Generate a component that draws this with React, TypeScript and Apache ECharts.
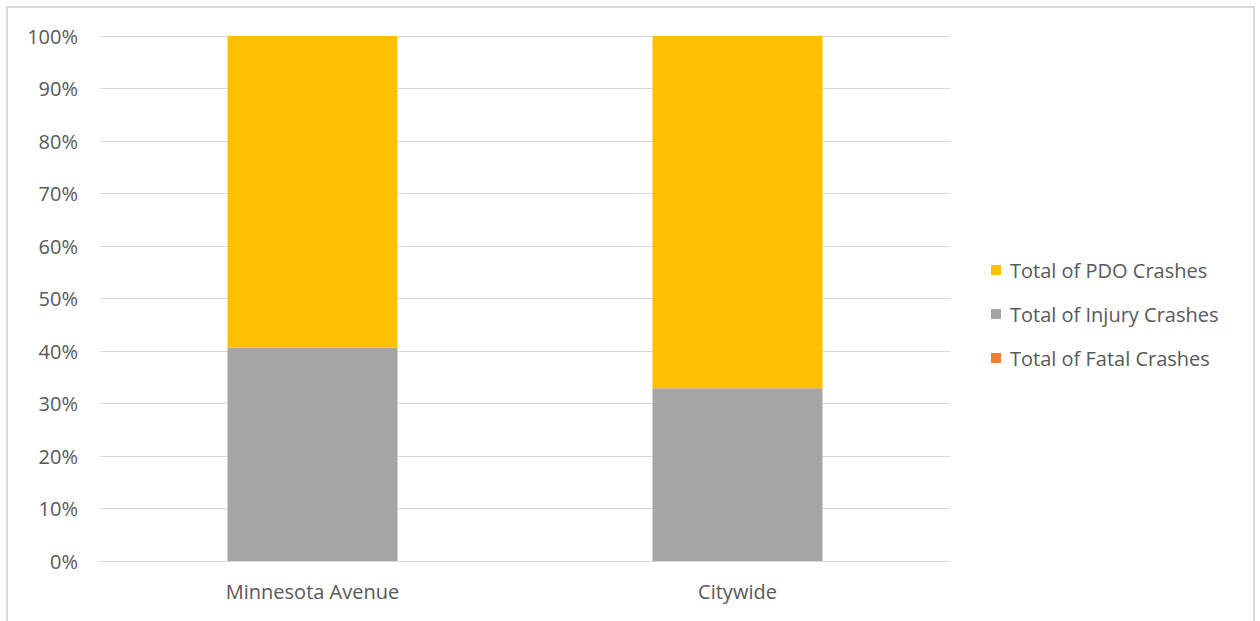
import React, { useEffect, useRef } from "react";
import * as echarts from "echarts";

const categories = ["Minnesota Avenue", "Citywide"];
const fatalPct = [0, 0];
const injuryPct = [40.6, 32.9];
const pdoPct = [59.4, 67.1];
const seriesNames = ["Total of Fatal Crashes", "Total of Injury Crashes", "Total of PDO Crashes"];
const legendOrder = ["Total of PDO Crashes", "Total of Injury Crashes", "Total of Fatal Crashes"];
const colors = ["#ED7D31", "#A5A5A5", "#FFC000"];

export default function App() {
  const ref = useRef<HTMLDivElement>(null);
  useEffect(() => {
    const chart = echarts.init(ref.current!, null, { renderer: "svg" });
    const font = "'Open Sans', 'Liberation Sans', sans-serif";
    const dataSets = [fatalPct, injuryPct, pdoPct];
    chart.setOption({
      animation: false,
      backgroundColor: "#ffffff",
      textStyle: { fontFamily: font },
      graphic: [
        {
          type: "rect",
          shape: { x: 7, y: 7, width: 1247, height: 700 },
          style: { fill: "none", stroke: "#d9d9d9", lineWidth: 2 },
          silent: true,
        },
      ],
      grid: { left: 100, right: 310, top: 36, bottom: 60, containLabel: false },
      legend: {
        orient: "vertical",
        left: 986,
        top: 255,
        itemWidth: 10,
        itemHeight: 10,
        itemGap: 24,
        icon: "rect",
        data: legendOrder,
        textStyle: { fontSize: 20, color: "#595959", fontFamily: font, padding: [0, 0, 0, 4] },
      },
      xAxis: {
        type: "category",
        data: categories,
        axisLine: { show: true, lineStyle: { color: "#d9d9d9", width: 1 } },
        axisTick: { show: false },
        axisLabel: { fontSize: 20, color: "#595959", margin: 20, fontFamily: font },
      },
      yAxis: {
        type: "value",
        min: 0,
        max: 100,
        interval: 10,
        axisLine: { show: false },
        axisTick: { show: false },
        splitLine: { lineStyle: { color: "#d9d9d9", width: 1 } },
        axisLabel: { fontSize: 20, color: "#595959", margin: 22, formatter: "{value}%", fontFamily: font },
      },
      series: seriesNames.map((name, i) => ({
        name,
        type: "bar",
        stack: "total",
        barWidth: 170,
        data: dataSets[i],
        itemStyle: { color: colors[i] },
      })),
    });
    return () => chart.dispose();
  }, []);
  return (
    <div
      ref={ref}
      style={{ position: "fixed", left: 0, top: 0, width: 1260, height: 621 }}
    />
  );
}
